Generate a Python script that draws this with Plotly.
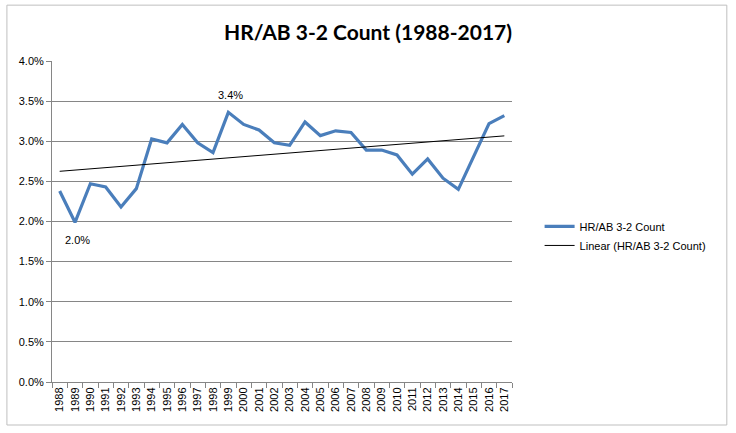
import numpy as np
import plotly.graph_objects as go

# HR/AB on 3-2 counts, in percent
years = [str(y) for y in range(1988, 2018)]
hr_ab = [2.38, 1.99, 2.47, 2.43, 2.18, 2.41, 3.03, 2.98, 3.21, 2.98,
         2.86, 3.36, 3.21, 3.14, 2.98, 2.95, 3.24, 3.07, 3.13, 3.11,
         2.89, 2.89, 2.83, 2.59, 2.78, 2.54, 2.40, 2.82, 3.22, 3.32]
y_ticks = [0.0, 0.5, 1.0, 1.5, 2.0, 2.5, 3.0, 3.5, 4.0]

# linear trend like Excel's trendline
idx = np.arange(len(hr_ab))
slope, icpt = np.polyfit(idx, hr_ab, 1)
trend = slope * idx + icpt

# only label the min and max
lo, hi = int(np.argmin(hr_ab)), int(np.argmax(hr_ab))

fig = go.Figure()
fig.add_trace(go.Scatter(
    x=years, y=hr_ab, name="HR/AB 3-2 Count",
    mode="lines", line=dict(color="#4A7EBB", width=3.2),
))
fig.add_trace(go.Scatter(
    x=years, y=trend, name="Linear (HR/AB 3-2 Count)",
    mode="lines", line=dict(color="#000000", width=1),
))

# category axis: annotation x given as the category index
for i, shift in ((lo, -18), (hi, 17)):
    fig.add_annotation(x=i, y=hr_ab[i], text=f"{hr_ab[i]:.1f}%",
                       showarrow=False, yshift=shift, xshift=2,
                       font=dict(size=11, color="#000000"))

fig.update_layout(
    width=736, height=433,
    margin=dict(l=52, r=224, t=61, b=51),
    paper_bgcolor="white", plot_bgcolor="white",
    font=dict(family="Liberation Sans, Arial, sans-serif", size=11, color="#000000"),
    title=dict(text="<b>HR/AB 3-2 Count (1988-2017)</b>", x=0.5, xanchor="center",
               xref="container", y=0.925, yanchor="middle",
               font=dict(family="Lato, sans-serif", size=21, color="#000000")),
    legend=dict(x=1.06, y=0.455, xanchor="left", yanchor="middle",
                font=dict(size=11), tracegroupgap=10, bgcolor="rgba(0,0,0,0)"),
    shapes=[dict(type="rect", xref="paper", yref="paper",
                 x0=-0.098, x1=1.467, y0=-0.134, y1=1.174,
                 line=dict(color="#BFBFBF", width=1))],
)
fig.update_xaxes(
    type="category", range=[-0.5, len(years) - 0.5],
    tickson="boundaries", ticks="outside", ticklen=5,
    tickcolor="#868686", showline=True, linecolor="#868686", linewidth=1,
    showgrid=False, tickangle=-90, tickfont=dict(size=11),
)
fig.update_yaxes(
    range=[0, 4.0], tickvals=y_ticks, ticktext=[f"{v:.1f}%" for v in y_ticks],
    ticks="outside", ticklen=5, tickcolor="#868686",
    showline=True, linecolor="#868686", linewidth=1,
    showgrid=True, gridcolor="#868686", gridwidth=1, zeroline=False,
    tickfont=dict(size=11),
)

fig.write_html("out.html", config={"displayModeBar": False},
               post_script="document.body.style.margin='0';")
